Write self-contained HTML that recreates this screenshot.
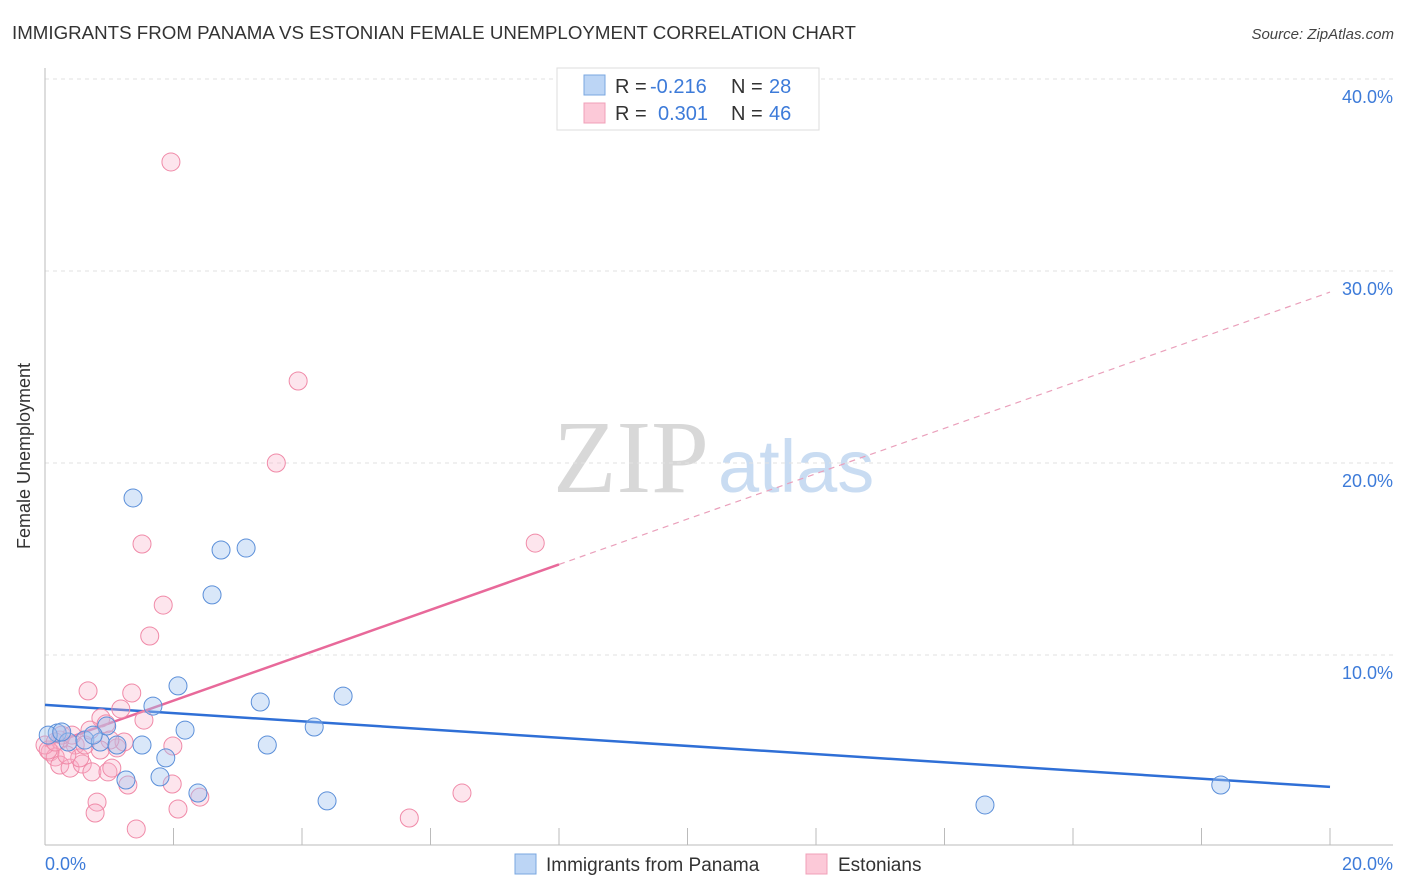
<!DOCTYPE html>
<html><head><meta charset="utf-8"><style>
body{margin:0;background:#fff;font-family:"Liberation Sans",sans-serif;}
svg{display:block}
</style></head><body>
<svg id="chart" width="1406" height="892">
<text x="12" y="39" font-size="18" fill="#333" textLength="844" lengthAdjust="spacingAndGlyphs">IMMIGRANTS FROM PANAMA VS ESTONIAN FEMALE UNEMPLOYMENT CORRELATION CHART</text>
<text x="1394" y="39" font-size="15" fill="#444" font-style="italic" text-anchor="end">Source: ZipAtlas.com</text>
<g>
<text x="553" y="492" font-size="104" fill="#d8d8d8" font-family="Liberation Serif,serif">ZIP</text>
<text x="718" y="492" font-size="74" fill="#c9dcf2">atlas</text>
</g>
<g id="grid"></g>
<g id="axes"></g>
<g id="lines"></g>
<g id="pts"></g>
<text x="30" y="456" font-size="18" fill="#333" text-anchor="middle" transform="rotate(-90 30 456)">Female Unemployment</text>
<g>
<rect x="557" y="68" width="262" height="62" fill="#fff" stroke="#ddd"/>
<rect x="584" y="75" width="21" height="20" fill="#bcd5f5" stroke="#7aa7e0"/>
<rect x="584" y="103" width="21" height="20" fill="#fcc9d8" stroke="#f0a0b8"/>
<text y="93" font-size="20"><tspan x="615" fill="#333">R = </tspan><tspan x="650" fill="#3d7bd9">-0.216</tspan><tspan x="731" fill="#333">N = </tspan><tspan x="769" fill="#3d7bd9">28</tspan></text>
<text y="120" font-size="20"><tspan x="615" fill="#333">R = </tspan><tspan x="658" fill="#3d7bd9">0.301</tspan><tspan x="731" fill="#333">N = </tspan><tspan x="769" fill="#3d7bd9">46</tspan></text>
</g>
<g>
<rect x="515" y="854" width="21" height="20" fill="#bcd5f5" stroke="#7aa7e0"/>
<text x="546" y="871" font-size="19" fill="#333">Immigrants from Panama</text>
<rect x="806" y="854" width="21" height="20" fill="#fcc9d8" stroke="#f0a0b8"/>
<text x="838" y="871" font-size="19" fill="#333">Estonians</text>
</g>
</svg>
<script>
const yTicks=[10,20,30,40];
const yTickLabels=["10.0%","20.0%","30.0%","40.0%"];
const xTickCount=10;
const blueX=[0.19,0.05,0.36,0.62,0.86,0.96,1.12,1.51,1.68,2.07,2.18,1.88,1.79,2.38,1.37,2.74,3.13,2.60,3.35,3.46,4.19,4.64,4.39,14.63,18.30,0.26,0.75,1.26];
const blueY=[5.94,5.83,5.47,5.57,5.47,6.30,5.31,5.31,7.34,8.39,6.09,4.64,3.65,2.81,18.18,15.47,15.57,13.13,7.55,5.31,6.25,7.86,2.40,2.19,3.23,5.99,5.83,3.49];
const pinkX=[1.96,3.94,3.60,1.51,7.63,1.84,1.63,0.67,1.35,1.18,1.54,0.87,0.95,1.99,1.12,0.08,0.16,0.23,0.39,0.58,0.73,0.98,1.04,1.29,1.98,0.81,0.78,2.07,2.41,1.42,5.67,6.49,0.47,0.23,0.0,0.54,0.34,1.23,1.01,0.26,0.05,0.16,0.42,0.86,0.62,0.70];
const pinkY=[35.68,24.27,20.0,15.78,15.83,12.60,10.99,8.13,8.02,7.19,6.61,6.72,6.41,5.26,5.16,4.95,4.69,4.27,4.11,4.32,3.91,3.91,4.11,3.23,3.28,2.34,1.77,1.98,2.60,0.94,1.51,2.81,5.31,5.57,5.31,4.64,4.79,5.47,5.57,5.83,5.05,5.47,5.83,5.05,5.31,6.09];
const blueTrend=[7.40,3.13];
const pinkTrend=[5.26,28.9];
const pinkSolidEnd=8.0;
const NS="http://www.w3.org/2000/svg";
const sx=v=>45+v*1285/20, sy=v=>847-v*19.2;
function mk(t,a,p){const e=document.createElementNS(NS,t);for(const k in a)e.setAttribute(k,a[k]);p.appendChild(e);return e;}
const grid=document.getElementById('grid'),axes=document.getElementById('axes'),lines=document.getElementById('lines'),pts=document.getElementById('pts');
yTicks.forEach((t,i)=>{
 const g=mk('line',{x1:45,x2:1393,y1:sy(t),y2:sy(t),stroke:'#e2e2e2','stroke-dasharray':'4,4'},grid);
 
 
 const l=mk('text',{x:1393,y:sy(t)+24,'font-size':18,fill:'#3d7bd9','text-anchor':'end'},grid);
 l.textContent=yTickLabels[i];
 
 
});
const ax=mk('line',{x1:45,x2:45,y1:68,y2:845,stroke:'#bbb'},axes);


const bx=mk('line',{x1:45,x2:1393,y1:845,y2:845,stroke:'#bbb'},axes);


for(let i=1;i<=xTickCount;i++){
 const x=sx(i*2);
 const t=mk('line',{x1:x,x2:x,y1:828,y2:845,stroke:'#bbb'},axes);
 
 
}
const x0=mk('text',{x:45,y:870,'font-size':18,fill:'#3d7bd9'},axes);x0.textContent='0.0%';


const x1=mk('text',{x:1393,y:870,'font-size':18,fill:'#3d7bd9','text-anchor':'end'},axes);x1.textContent='20.0%';


function dots(X,Y,fill,stroke,name){X.forEach((x,i)=>{
 const c=mk('circle',{cx:sx(x),cy:sy(Y[i]),r:9,fill:fill,stroke:stroke,'stroke-width':1},pts);
 
 
});}
dots(pinkX,pinkY,'rgba(248,175,198,0.32)','#f08aa8','point-estonians');
dots(blueX,blueY,'rgba(160,196,240,0.4)','#5b8fd9','point-panama');
const pe=pinkTrend[0]+(pinkTrend[1]-pinkTrend[0])*pinkSolidEnd/20;
const b=mk('line',{x1:sx(0),y1:sy(blueTrend[0]),x2:sx(20),y2:sy(blueTrend[1]),stroke:'#2f6fd6','stroke-width':2.5},lines);


const p1=mk('line',{x1:sx(0),y1:sy(pinkTrend[0]),x2:sx(pinkSolidEnd),y2:sy(pe),stroke:'#e8699a','stroke-width':2.5},lines);


const p2=mk('line',{x1:sx(pinkSolidEnd),y1:sy(pe),x2:sx(20),y2:sy(pinkTrend[1]),stroke:'#eaa0bb','stroke-width':1.2,'stroke-dasharray':'6,5'},lines);


</script>
</body></html>
